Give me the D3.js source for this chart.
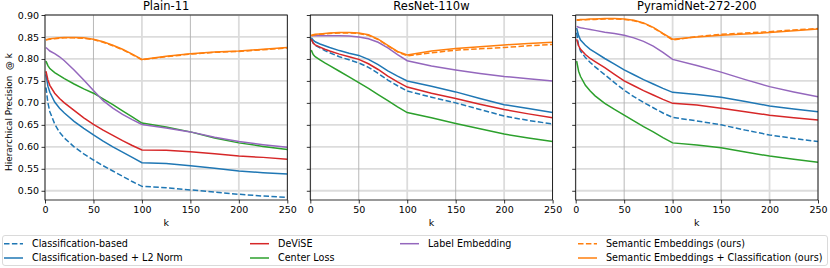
<!DOCTYPE html>
<html><head><meta charset="utf-8">
<script src="https://cdn.jsdelivr.net/npm/d3@7"></script>
<style>body{margin:0;background:#fff;}svg{display:block;font-family:"DejaVu Sans",sans-serif;}</style>
</head><body><svg id="c" width="830" height="268"></svg>
<script>
const ks = [1,3,5,10,15,20,30,40,50,60,70,80,90,100,125,150,175,200,225,250];
const panelTitles = ["Plain-11","ResNet-110w","PyramidNet-272-200"];
const seriesNames = ["Classification-based","Classification-based + L2 Norm","DeViSE","Center Loss","Label Embedding","Semantic Embeddings (ours)","Semantic Embeddings + Classification (ours)"];
const seriesColors = ["#1f77b4","#1f77b4","#d62728","#2ca02c","#9467bd","#ff7f0e","#ff7f0e"];
const seriesDashed = [true,false,false,false,false,true,false];
const yTicks = [0.50,0.55,0.60,0.65,0.70,0.75,0.80,0.85,0.90];
const xTicks = [0,50,100,150,200,250];

// Plain-11
const plainCls     = [0.735,0.700,0.680,0.652,0.633,0.620,0.600,0.584,0.570,0.557,0.545,0.533,0.521,0.510,0.507,0.502,0.497,0.492,0.488,0.485];
const plainClsL2   = [0.765,0.738,0.724,0.702,0.688,0.677,0.658,0.642,0.627,0.613,0.600,0.588,0.576,0.564,0.562,0.557,0.551,0.545,0.541,0.538];
const plainDevise  = [0.772,0.752,0.740,0.722,0.710,0.700,0.683,0.666,0.651,0.638,0.626,0.614,0.603,0.593,0.592,0.589,0.584,0.579,0.576,0.572];
const plainCenter  = [0.795,0.785,0.778,0.769,0.762,0.755,0.743,0.732,0.722,0.709,0.696,0.682,0.668,0.654,0.645,0.634,0.620,0.609,0.601,0.594];
const plainLabel   = [0.826,0.822,0.818,0.812,0.805,0.796,0.775,0.752,0.728,0.705,0.688,0.674,0.662,0.651,0.643,0.634,0.622,0.612,0.605,0.599];
const plainSem     = [0.843,0.844,0.845,0.846,0.847,0.848,0.848,0.847,0.844,0.838,0.830,0.821,0.810,0.798,0.805,0.811,0.815,0.817,0.821,0.825];
const plainSemCls  = [0.844,0.845,0.846,0.847,0.848,0.849,0.849,0.848,0.845,0.839,0.831,0.822,0.811,0.799,0.806,0.812,0.816,0.818,0.822,0.826];
// ResNet-110w
const resCls       = [0.845,0.836,0.831,0.825,0.819,0.814,0.805,0.798,0.791,0.781,0.767,0.752,0.739,0.727,0.713,0.700,0.685,0.670,0.660,0.652];
const resClsL2     = [0.848,0.843,0.839,0.834,0.830,0.826,0.819,0.813,0.808,0.799,0.787,0.773,0.761,0.750,0.738,0.725,0.710,0.696,0.687,0.678];
const resDevise    = [0.845,0.836,0.832,0.827,0.822,0.818,0.811,0.805,0.799,0.789,0.776,0.761,0.748,0.736,0.722,0.710,0.697,0.685,0.675,0.666];
const resCenter    = [0.820,0.810,0.805,0.798,0.791,0.785,0.772,0.759,0.746,0.733,0.719,0.705,0.691,0.678,0.666,0.653,0.641,0.629,0.620,0.612];
const resLabel     = [0.853,0.853,0.853,0.853,0.853,0.853,0.853,0.852,0.850,0.846,0.838,0.825,0.810,0.796,0.784,0.775,0.767,0.760,0.755,0.750];
const resSem       = [0.853,0.854,0.855,0.856,0.857,0.858,0.859,0.859,0.858,0.854,0.844,0.830,0.816,0.807,0.814,0.820,0.823,0.826,0.830,0.833];
const resSemCls    = [0.854,0.855,0.856,0.857,0.858,0.859,0.860,0.860,0.859,0.855,0.845,0.831,0.817,0.809,0.818,0.824,0.828,0.832,0.835,0.838];
// PyramidNet-272-200
const pyrCls       = [0.860,0.830,0.818,0.803,0.792,0.782,0.764,0.746,0.729,0.714,0.701,0.689,0.677,0.667,0.659,0.650,0.638,0.627,0.619,0.612];
const pyrClsL2     = [0.870,0.853,0.843,0.831,0.822,0.815,0.801,0.788,0.775,0.764,0.753,0.743,0.733,0.724,0.719,0.713,0.703,0.693,0.686,0.680];
const pyrDevise    = [0.845,0.830,0.822,0.810,0.801,0.794,0.780,0.765,0.750,0.739,0.728,0.718,0.708,0.699,0.695,0.688,0.680,0.672,0.666,0.661];
const pyrCenter    = [0.795,0.772,0.760,0.740,0.727,0.716,0.699,0.685,0.672,0.659,0.646,0.634,0.621,0.609,0.604,0.598,0.588,0.579,0.572,0.565];
const pyrLabel     = [0.874,0.872,0.871,0.869,0.867,0.865,0.861,0.858,0.854,0.848,0.840,0.829,0.815,0.799,0.785,0.770,0.753,0.737,0.725,0.714];
const pyrSem       = [0.888,0.888,0.889,0.889,0.890,0.890,0.891,0.891,0.890,0.887,0.881,0.871,0.857,0.843,0.851,0.856,0.859,0.862,0.866,0.869];
const pyrSemCls    = [0.889,0.889,0.890,0.890,0.891,0.891,0.892,0.892,0.891,0.888,0.882,0.872,0.858,0.845,0.850,0.854,0.857,0.860,0.864,0.868];

const panelData = [
  [plainCls,plainClsL2,plainDevise,plainCenter,plainLabel,plainSem,plainSemCls],
  [resCls,resClsL2,resDevise,resCenter,resLabel,resSem,resSemCls],
  [pyrCls,pyrClsL2,pyrDevise,pyrCenter,pyrLabel,pyrSem,pyrSemCls]
];

const svg = d3.select("#c");
const panelLeft = [45, 310.3, 575.7];
const pw = 242.3, plotTop = 15, plotBottom = 200;
const y = d3.scaleLinear().domain([0.479,0.90]).range([plotBottom, plotTop]);

panelData.forEach((series, p) => {
  const x = d3.scaleLinear().domain([0,250]).range([panelLeft[p], panelLeft[p]+pw]);
  const g = svg.append("g");
  yTicks.forEach(t => g.append("line").attr("x1",x(0)).attr("x2",x(250)).attr("y1",y(t)).attr("y2",y(t))
    .attr("stroke","#dcdcdc").attr("stroke-width",1.8));
  xTicks.forEach(t => {
    const major = (t % 100 === 0);
    g.append("line").attr("x1",x(t)).attr("x2",x(t)).attr("y1",plotTop).attr("y2",plotBottom)
      .attr("stroke", major ? "#dcdcdc" : "#b0b0b0").attr("stroke-width", major ? 1.8 : 0.9);
  });
  const clip = "clip"+p;
  svg.append("clipPath").attr("id",clip).append("rect").attr("x",x(0)).attr("y",plotTop).attr("width",pw).attr("height",plotBottom-plotTop);
  const line = d3.line().x((d,i)=>x(ks[i])).y(d=>y(d));
  series.forEach((vals, s) => {
    g.append("path").attr("d", line(vals)).attr("fill","none").attr("clip-path",`url(#${clip})`)
      .attr("stroke", seriesColors[s]).attr("stroke-width",1.5)
      .attr("stroke-dasharray", seriesDashed[s] ? "5.5,2.4" : null);
  });
  const xa = d3.axisBottom(x).tickValues(xTicks).tickSize(3.5).tickPadding(2.5).tickFormat(d3.format("d"));
  const gx = g.append("g").attr("transform",`translate(0,${plotBottom})`).call(xa);
  const ya = d3.axisLeft(y).tickValues(yTicks).tickSize(3.5).tickPadding(2.5).tickFormat(p===0 ? d3.format(".2f") : ()=>"");
  const gy = g.append("g").attr("transform",`translate(${x(0)},0)`).call(ya);
  [gx,gy].forEach(a => { a.select(".domain").remove(); a.selectAll("line").attr("stroke","#000").attr("stroke-width",0.8);
    a.selectAll("text").attr("font-size",9.5).attr("fill","#000").attr("font-family","DejaVu Sans"); });
  g.append("rect").attr("x",x(0)).attr("y",plotTop).attr("width",pw).attr("height",plotBottom-plotTop)
    .attr("fill","none").attr("stroke","#000").attr("stroke-width",0.8);
  g.append("text").attr("x",x(125)).attr("y",10).attr("text-anchor","middle").attr("font-size",11.5).attr("fill","#000").text(panelTitles[p]);
  g.append("text").attr("x",x(125)).attr("y",226).attr("text-anchor","middle").attr("font-size",9.5).attr("fill","#000").text("k");
});
svg.append("text").attr("transform","translate(11.5,112) rotate(-90)").attr("text-anchor","middle")
  .attr("font-size",8.9).attr("fill","#000").style("white-space","pre").text("Hierarchical Precision  @ k");

const lg = svg.append("g");
lg.append("rect").attr("x",2.5).attr("y",235.5).attr("width",825).attr("height",30).attr("rx",2.5)
  .attr("fill","#fff").attr("stroke","#d0d0d0").attr("stroke-width",0.8);
const colX = [4, 250, 400, 578];
const rowY = [243.7, 258];
const pos = [[0,0],[0,1],[1,0],[1,1],[2,0],[3,0],[3,1]];
seriesNames.forEach((name,i) => {
  const [c,r] = pos[i];
  lg.append("line").attr("x1",colX[c]).attr("x2",colX[c]+19).attr("y1",rowY[r]).attr("y2",rowY[r])
    .attr("stroke",seriesColors[i]).attr("stroke-width",1.5).attr("stroke-dasharray",seriesDashed[i]?"5.5,2.4":null);
  lg.append("text").attr("x",colX[c]+28).attr("y",rowY[r]).attr("dy","0.35em").attr("font-size",9.6).attr("fill","#000").text(name);
});
</script></body></html>
